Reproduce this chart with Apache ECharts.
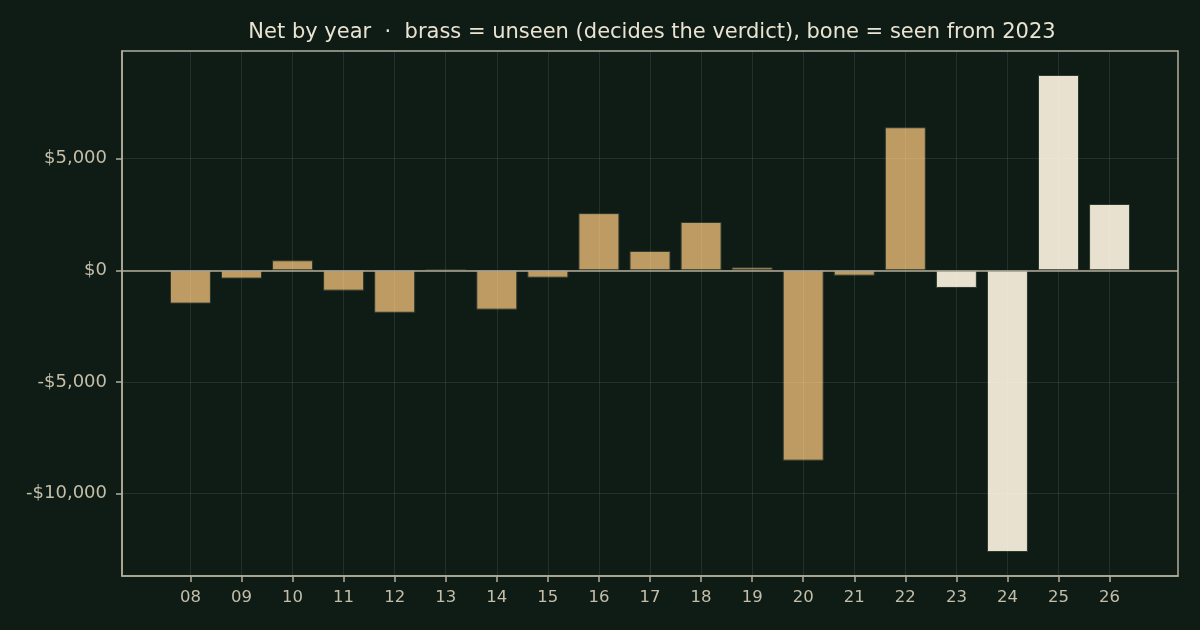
<!DOCTYPE html>
<html>
<head>
<meta charset="utf-8">
<script src="https://cdn.jsdelivr.net/npm/echarts@6/dist/echarts.min.js"></script>
<style>
  html, body { margin: 0; padding: 0; background: #0f1c16; }
  #chart { width: 1200px; height: 630px; }
</style>
</head>
<body>
<div id="chart"></div>
<script>
// net per year
var years = [2008, 2009, 2010, 2011, 2012, 2013, 2014, 2015, 2016, 2017,
             2018, 2019, 2020, 2021, 2022, 2023, 2024, 2025, 2026];
var net = [-1490, -370, 450, -910, -1900, 60, -1760, -330, 2560, 870,
           2165, 135, -8520, -240, 6405, -790, -12610, 8745, 2970];
var seenFrom = 2023;
var yTicks = [-10000, -5000, 0, 5000];

var brass = '#be9b63';
var bone = '#e9e1cf';
var axisCol = '#b3ad9b';
var textCol = '#c4bea9';
var gridCol = 'rgba(255,255,255,0.09)';
var font = 'DejaVu Sans';

var barData = years.map(function (y, i) {
  return {
    value: [y, net[i]],
    itemStyle: { color: y >= seenFrom ? bone : brass }
  };
});

function money(v) {
  var s = Math.abs(v).toLocaleString('en-US');
  return (v < 0 ? '-$' : '$') + s;
}

var chart = echarts.init(document.getElementById('chart'));
var option = {
  backgroundColor: '#0f1c16',
  animation: false,
  textStyle: { fontFamily: font },
  title: {
    text: 'Net by year  \u00b7  brass = unseen (decides the verdict), bone = seen from 2023',
    left: 647,
    textAlign: 'center',
    top: 17,
    textStyle: { color: '#e9e3d2', fontSize: 21, fontWeight: 'normal', fontFamily: font }
  },
  grid: {
    left: 122, right: 22, top: 51, bottom: 54,
    show: true,
    borderColor: axisCol,
    borderWidth: 1.5,
    backgroundColor: 'transparent'
  },
  xAxis: {
    type: 'value',
    z: 3,
    min: 2006.66,
    max: 2027.34,
    axisLine: { show: true, onZero: false, lineStyle: { color: axisCol, width: 1.5 } },
    axisTick: { show: true, length: 6, customValues: years, lineStyle: { color: axisCol, width: 1.5 } },
    axisLabel: {
      customValues: years,
      color: textCol, fontSize: 16.5, margin: 13, fontFamily: font,
      formatter: function (v) { return String(Math.round(v)).slice(2); }
    },
    splitLine: { show: true, lineStyle: { color: gridCol, width: 1 } }
  },
  yAxis: {
    type: 'value',
    z: 3,
    min: -13684,
    max: 9818,
    axisLine: { show: true, lineStyle: { color: axisCol, width: 1.5 } },
    axisTick: { show: true, length: 6, customValues: yTicks, lineStyle: { color: axisCol, width: 1.5 } },
    axisLabel: {
      customValues: yTicks,
      color: textCol, fontSize: 18, margin: 15, fontFamily: font,
      formatter: money
    },
    splitLine: { show: true, lineStyle: { color: gridCol, width: 1 } }
  },
  series: [{
    type: 'bar',
    barWidth: 41,
    data: barData,
    itemStyle: { borderColor: '#2b382c', borderWidth: 1 },
    markLine: {
      silent: true,
      symbol: 'none',
      z: 5,
      label: { show: false },
      lineStyle: { color: axisCol, width: 1.5, type: 'solid' },
      data: [{ yAxis: 0 }]
    }
  }]
};
chart.setOption(option);
</script>
</body>
</html>
